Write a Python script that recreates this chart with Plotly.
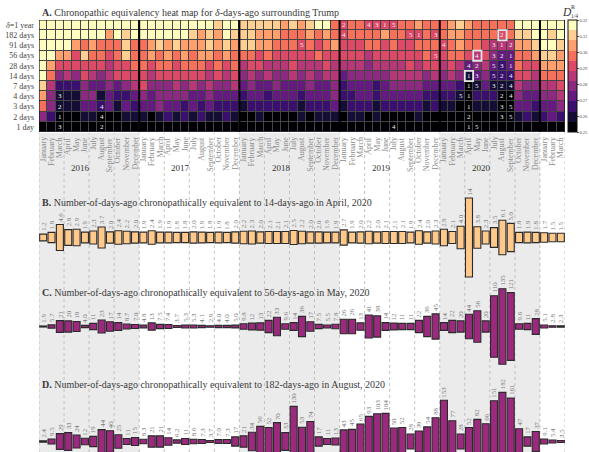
import plotly.graph_objects as go

# ---------------------------------------------------------------- data
month_names = ["January", "February", "March", "April", "May", "June", "July",
               "August", "September", "October", "November", "December"]
year_labels = ["2016", "2017", "2018", "2019", "2020"]
n_months = 63  # January 2016 .. March 2021
month_labels = (month_names * 6)[:n_months]

delta_labels = ["1 day", "2 days", "3 days", "4 days", "7 days", "14 days",
                "28 days", "56 days", "91 days", "182 days", "<i>δ</i>=1 year"]

# D^R_{1/4} per month (columns) for each delta row
d_1yr = [.317,.317,.317,.317,.317,.317,.317,.317,.317,.317,.317,.317,
         .317,.317,.317,.317,.317,.317,.317,.317,.317,.310,.317,.317,
         .310,.310,.310,.310,.310,.304,.310,.304,.310,.317,.317,.298,
         .291,.298,.298,.291,.291,.291,.291,.298,.298,.304,.298,.298,
         .298,.304,.310,.304,.298,.298,.298,.298,.298,.317,.317,.317,
         .317,.317,.317]
d_182 = [.317,.317,.317,.317,.317,.317,.317,.317,.304,.317,.310,.317,
         .317,.317,.317,.317,.317,.317,.310,.304,.310,.304,.317,.310,
         .310,.310,.304,.304,.304,.298,.298,.298,.304,.298,.304,.298,
         .291,.298,.298,.298,.298,.304,.298,.298,.291,.291,.298,.291,
         .298,.304,.304,.298,.298,.298,.298,.291,.298,.310,.310,.317,
         .317,.310,.317]
d_91 = [.317,.317,.317,.317,.304,.298,.304,.298,.298,.298,.310,.298,
        .298,.304,.310,.304,.310,.304,.304,.304,.310,.304,.310,.304,
        .310,.310,.304,.304,.298,.298,.298,.291,.298,.291,.298,.304,
        .291,.291,.291,.298,.298,.291,.298,.291,.291,.298,.298,.298,
        .291,.298,.304,.298,.298,.291,.285,.285,.285,.304,.304,.310,
        .317,.317,.310]
d_56 = [.317,.317,.304,.304,.291,.310,.298,.298,.291,.298,.310,.298,
        .298,.304,.298,.304,.298,.304,.298,.304,.304,.298,.304,.298,
        .298,.298,.291,.298,.291,.291,.291,.291,.291,.298,.291,.291,
        .291,.291,.291,.285,.291,.291,.291,.291,.291,.291,.298,.291,
        .291,.298,.298,.291,.285,.291,.279,.272,.272,.298,.298,.304,
        .310,.310,.304]
d_28 = [.317,.304,.291,.291,.291,.291,.291,.291,.285,.291,.291,.298,
        .298,.291,.298,.298,.291,.298,.298,.298,.291,.298,.291,.298,
        .285,.291,.291,.285,.285,.285,.291,.285,.285,.285,.291,.285,
        .285,.285,.285,.279,.285,.285,.285,.285,.291,.285,.291,.291,
        .285,.291,.285,.272,.279,.285,.272,.266,.272,.298,.291,.291,
        .304,.304,.304]
d_14 = [.317,.298,.279,.285,.279,.291,.285,.279,.285,.291,.291,.291,
        .291,.285,.291,.291,.291,.291,.291,.291,.285,.291,.285,.291,
        .279,.285,.279,.285,.279,.279,.285,.279,.285,.279,.285,.285,
        .272,.279,.279,.279,.279,.279,.285,.285,.285,.285,.279,.285,
        .279,.285,.279,.260,.272,.279,.266,.266,.266,.291,.291,.285,
        .298,.298,.298]
d_7 = [.310,.285,.266,.266,.266,.279,.272,.272,.279,.272,.279,.285,
       .291,.279,.279,.279,.285,.279,.285,.279,.285,.279,.279,.285,
       .272,.279,.272,.272,.279,.272,.272,.272,.279,.272,.272,.279,
       .266,.272,.272,.272,.266,.272,.279,.279,.279,.279,.272,.272,
       .272,.272,.266,.253,.260,.272,.260,.260,.260,.285,.279,.279,
       .285,.285,.291]
d_4 = [.304,.279,.260,.260,.260,.279,.279,.260,.272,.266,.266,.272,
       .279,.272,.279,.279,.279,.279,.272,.272,.279,.272,.272,.272,
       .266,.272,.272,.266,.272,.272,.272,.266,.272,.272,.272,.279,
       .266,.266,.272,.272,.266,.272,.272,.272,.272,.272,.266,.266,
       .266,.266,.260,.253,.266,.266,.266,.253,.253,.279,.272,.272,
       .279,.279,.285]
d_3 = [.298,.279,.260,.260,.260,.272,.272,.266,.272,.260,.272,.266,
       .272,.272,.279,.272,.272,.266,.272,.266,.272,.266,.266,.266,
       .260,.266,.266,.266,.266,.266,.266,.260,.266,.266,.266,.272,
       .260,.266,.266,.266,.260,.266,.266,.266,.266,.266,.260,.266,
       .260,.260,.253,.253,.260,.260,.260,.253,.253,.272,.272,.266,
       .272,.272,.279]
d_2 = [.279,.266,.253,.253,.253,.260,.260,.253,.253,.253,.260,.260,
       .260,.253,.260,.266,.260,.266,.260,.266,.260,.260,.266,.260,
       .253,.253,.260,.253,.253,.253,.253,.260,.253,.260,.260,.260,
       .253,.260,.260,.253,.260,.253,.253,.253,.253,.260,.253,.253,
       .253,.253,.253,.253,.253,.253,.253,.253,.253,.260,.266,.260,
       .266,.272,.266]
d_1 = [.253,.253,.253,.253,.253,.253,.253,.253,.253,.253,.253,.253,
       .253,.253,.253,.253,.253,.253,.253,.253,.253,.253,.253,.253,
       .253,.253,.253,.253,.253,.253,.253,.253,.253,.253,.253,.253,
       .253,.253,.253,.253,.253,.253,.253,.253,.253,.253,.253,.253,
       .253,.253,.253,.253,.253,.253,.253,.253,.253,.253,.253,.253,
       .253,.253,.253]

# rank markers drawn inside the heat map (row index, month index, text)
rank_rows = [10, 10, 10, 10, 10,
             9, 9, 9, 9, 9,
             8, 8, 8, 8, 8,
             7, 7, 7, 7, 7,
             6, 6, 6, 6, 6,
             5, 5, 5, 5, 5,
             4, 4, 4, 4, 4,
             3, 3, 3, 3, 3,
             2, 2, 2, 2, 2,
             1, 1, 1, 1, 1,
             0, 0, 0, 0, 0]
rank_cols = [36, 39, 40, 41, 42,
             36, 44, 45, 47, 55,
             31, 48, 54, 55, 56,
             47, 52, 54, 55, 56,
             51, 52, 54, 55, 56,
             51, 52, 54, 55, 56,
             51, 52, 54, 55, 56,
             2, 50, 51, 55, 56,
             2, 7, 51, 55, 56,
             2, 7, 51, 55, 56,
             2, 7, 42, 51, 52]
rank_text = ["2", "4", "3", "1", "5",
             "4", "5", "1", "3", "2",
             "5", "4", "3", "1", "2",
             "5", "4", "3", "2", "1",
             "4", "2", "5", "3", "1",
             "1", "3", "5", "2", "4",
             "1", "5", "3", "2", "4",
             "3", "5", "1", "2", "4",
             "2", "4", "1", "3", "5",
             "1", "4", "2", "3", "5",
             "3", "2", "4", "1", "5"]
# highlighted reference cells (month index, row index)
box_cols = [51, 52, 55]
box_rows = [5, 7, 9]

# number-of-days-ago equivalent to the reference cell
b_vals = [1.2, 1.8, 4.6, 2.8, 2.9, 1.9, 2.3, 3.7, 2.0, 2.4, 2.2, 2.0,
          1.9, 2.4, 1.9, 1.9, 1.8, 1.8, 2.0, 1.9, 1.8, 1.9, 1.8, 2.0,
          2.2, 2.3, 2.0, 2.1, 2.1, 2.1, 2.5, 2.2, 2.0, 2.0, 1.9, 1.9,
          2.7, 1.9, 2.0, 2.2, 2.0, 2.1, 2.1, 2.1, 1.9, 2.4, 2.0, 2.3,
          2.9, 2.1, 4.0, 14, 3.8, 2.3, 3.5, 6.1, 5.0, 1.8, 1.9, 1.8,
          1.7, 1.5, 1.5]
c_vals = [1.9, 5.7, 21, 20, 18, 4.0, 11, 23, 17, 14, 8.7, 7.0,
          4.8, 13, 7.5, 7.4, 3.7, 5.3, 5.3, 4.1, 2.9, 4.0, 4.0, 5.0,
          9.8, 12, 13, 22, 33, 9.6, 14, 36, 17, 7.5, 5.5, 7.8,
          26, 26, 13, 41, 38, 14, 12, 11, 11, 22, 36, 45,
          14, 22, 20, 44, 56, 20, 110, 135, 121, 9.6, 11, 28,
          5.1, 2.8, 2.3]
d_vals = [2.4, 9.5, 29, 33, 24, 12, 19, 44, 40, 25, 11, 15,
          8.3, 21, 21, 14, 6.2, 11, 8.6, 7.3, 3.7, 7.0, 7.3, 17,
          21, 34, 56, 52, 70, 33, 130, 53, 74, 17, 11, 13,
          43, 45, 65, 93, 103, 104, 50, 52, 28, 39, 54, 88,
          153, 77, 28, 52, 82, 66, 151, 182, 161, 47, 17, 37,
          9.1, 5.4, 3.5]

# ---------------------------------------------------------------- layout helpers
W, H = 589, 452
FONT = "Liberation Serif"
X0, X1 = 39, 565          # plot area, pixels
HM_TOP, HM_BOT = 20, 132  # heat map, pixels


def py(p):
    return 1 - p / H


def px(p):
    return p / W


def panel(center, scale, top, bot):
    """domain/range for a symmetric bar panel given pixel geometry"""
    return dict(domain=[py(bot), py(top)],
                range=[-(bot - center) / scale, (center - top) / scale])


magma11 = ["#000004", "#140e36", "#3b0f70", "#641a80", "#8c2981", "#b73779",
           "#de4968", "#f7705c", "#fe9f6d", "#fecf92", "#fcfdbf"]
cscale = []
for k, c in enumerate(magma11):
    cscale.append([k / 11, c])
    cscale.append([(k + 1) / 11, c])

idx = list(range(n_months))
z = [d_1, d_2, d_3, d_4, d_7, d_14, d_28, d_56, d_91, d_182, d_1yr]

fig = go.Figure()
fig.add_trace(go.Heatmap(
    z=z, x=idx, y=list(range(11)), zmin=0.25, zmax=0.32,
    colorscale=cscale, xgap=1, ygap=1, hoverinfo="skip",
    colorbar=dict(x=px(567.5), xanchor="left", y=py(HM_TOP), yanchor="top",
                  len=HM_BOT - HM_TOP, lenmode="pixels",
                  thickness=9, thicknessmode="pixels", xpad=0, ypad=0,
                  outlinewidth=1, outlinecolor="#111",
                  tickvals=[0.25, 0.26, 0.27, 0.28, 0.29, 0.30, 0.31, 0.32],
                  ticktext=["0.25", "0.26", "0.27", "0.28", "0.29", "0.30", "0.31", "0.32"],
                  ticks="outside", ticklen=1.5, tickwidth=0.7, tickcolor="#555",
                  tickfont=dict(family=FONT, size=4.5, color="#444")),
))

bar_panels = [
    ("y2", b_vals, "#fec98a", 237.5, 5.65, 190, 282),
    ("y3", c_vals, "#9b2a7f", 326.5, 0.56, 282, 372),
    ("y4", d_vals, "#9b2a7f", 441.5, 0.54, 372, H),
]
axes = {}
annotations = []
for yref, vals, color, center, scale, top, bot in bar_panels:
    fig.add_trace(go.Bar(
        x=idx, y=vals, base=[-v / 2 for v in vals], yaxis=yref, width=0.84,
        marker=dict(color=color, line=dict(color="#2a2a2a", width=1.1)),
        hoverinfo="skip"))
    ax = panel(center, scale, top, bot)
    axes["yaxis" + yref[1:]] = dict(domain=ax["domain"], range=ax["range"],
                                   visible=False, anchor="x", fixedrange=True)
    for i, v in enumerate(vals):
        txt = f"{v:.0f}" if v >= 10 else f"{v:.1f}"
        annotations.append(dict(x=i, y=v / 2, xref="x", yref=yref, text=txt,
                                textangle=-90, yanchor="bottom", xanchor="center",
                                yshift=1, showarrow=False,
                                font=dict(family=FONT, size=6.8, color="#7a7a7a")))

# month and year labels
for i, m in enumerate(month_labels):
    annotations.append(dict(x=i, y=py(135), xref="x", yref="paper", text=m,
                            textangle=-90, yanchor="top", xanchor="center",
                            showarrow=False,
                            font=dict(family=FONT, size=8, color="#8c8c8c")))
for k, yl in enumerate(year_labels):
    annotations.append(dict(x=4.5 + 12 * k, y=py(168), xref="x", yref="paper",
                            text=yl, showarrow=False, xanchor="center",
                            yanchor="middle",
                            font=dict(family=FONT, size=9, color="#333")))

# rank markers
for r, c, t in zip(rank_rows, rank_cols, rank_text):
    annotations.append(dict(x=c, y=r, xref="x", yref="y", text=t,
                            showarrow=False,
                            font=dict(family=FONT, size=7, color="#f2f2f2")))

# panel titles
titles = [
    (12.5, "<b>A.</b> Chronopathic equivalency heat map for <i>δ</i>-days-ago surrounding Trump"),
    (202.5, "<b>B.</b> Number-of-days-ago chronopathically equivalent to 14-days-ago in April, 2020"),
    (292.5, "<b>C.</b> Number-of-days-ago chronopathically equivalent to 56-days-ago in May, 2020"),
    (384.5, "<b>D.</b> Number-of-days-ago chronopathically equivalent to 182-days-ago in August, 2020"),
]
for ypix, t in titles:
    annotations.append(dict(x=px(40), y=py(ypix), xref="paper", yref="paper",
                            text=t, xanchor="left", yanchor="middle",
                            showarrow=False,
                            font=dict(family=FONT, size=10, color="#3a3a3a")))

# colour bar label D^R_{1/4}
annotations += [
    dict(x=px(566.5), y=py(12.5), xref="paper", yref="paper", text="<i>D</i>",
         showarrow=False, xanchor="center", yanchor="middle",
         font=dict(family=FONT, size=11.5, color="#333")),
    dict(x=px(572.5), y=py(7.5), xref="paper", yref="paper", text="R",
         showarrow=False, xanchor="center", yanchor="middle",
         font=dict(family=FONT, size=6, color="#333")),
    dict(x=px(574), y=py(15.5), xref="paper", yref="paper", text="1/4",
         showarrow=False, xanchor="center", yanchor="middle",
         font=dict(family=FONT, size=5.5, color="#333")),
]

# ---------------------------------------------------------------- shapes
shapes = []
for k in (0, 2, 4):  # shaded years 2016, 2018, 2020
    shapes.append(dict(type="rect", xref="x", yref="paper",
                       x0=-0.5 + 12 * k, x1=11.5 + 12 * k, y0=0, y1=py(HM_BOT + 1),
                       fillcolor="#ebebeb", line=dict(width=0), layer="below"))
for k in range(22):  # quarter separators
    xq = -0.5 + 3 * k
    shapes.append(dict(type="line", xref="x", yref="paper", x0=xq, x1=xq,
                       y0=0, y1=py(HM_BOT + 1),
                       line=dict(color="#b4b4b4", width=0.8, dash="dot"),
                       layer="below"))
shapes.append(dict(type="rect", xref="x", yref="y", x0=-0.5, x1=62.5,
                   y0=-0.5, y1=10.5, fillcolor="#454545",
                   line=dict(width=0), layer="below"))
for xb in (11.5, 23.5, 35.5, 47.5, 59.5):  # year boundaries in the heat map
    shapes.append(dict(type="line", xref="x", yref="y", x0=xb, x1=xb,
                       y0=-0.5, y1=10.5, line=dict(color="#000", width=2)))
shapes.append(dict(type="rect", xref="x", yref="y", x0=-0.5, x1=62.5,
                   y0=-0.5, y1=10.5, line=dict(color="#111", width=1.2)))
for c, r in zip(box_cols, box_rows):
    shapes.append(dict(type="rect", xref="x", yref="y", x0=c - 0.5, x1=c + 0.5,
                       y0=r - 0.5, y1=r + 0.5,
                       line=dict(color="#e6e6e6", width=1.8)))

fig.update_layout(
    template="none",
    width=W, height=H, autosize=False,
    margin=dict(l=0, r=0, t=0, b=0, pad=0, autoexpand=False),
    paper_bgcolor="white", plot_bgcolor="rgba(0,0,0,0)",
    showlegend=False, barmode="overlay",
    font=dict(family=FONT, color="#333"),
    xaxis=dict(domain=[px(X0), px(X1)], range=[-0.5, n_months - 0.5],
               visible=False, fixedrange=True, anchor="y"),
    yaxis=dict(domain=[py(HM_BOT), py(HM_TOP)], range=[-0.5, 10.5],
               tickvals=list(range(11)), ticktext=delta_labels,
               showgrid=False, zeroline=False, showline=False, ticks="",
               ticklabelstandoff=4,
               tickfont=dict(family=FONT, size=8, color="#444"),
               fixedrange=True, anchor="x"),
    annotations=annotations,
    shapes=shapes,
    **axes,
)

fig.write_html("out.html", config={"displayModeBar": False})
